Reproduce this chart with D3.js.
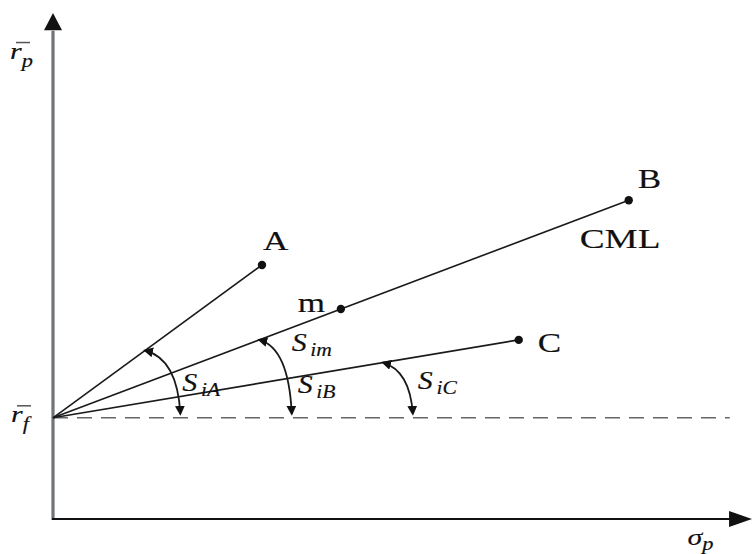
<!DOCTYPE html>
<html>
<head>
<meta charset="utf-8">
<script src="https://cdn.jsdelivr.net/npm/d3@7"></script>
<style>
  html, body { margin: 0; padding: 0; background: #fff; }
  svg { display: block; }
  .lbl { font-family: "Liberation Serif", "DejaVu Serif", serif; fill: #111; stroke: #111; stroke-width: 0.15; }
  .it { font-style: italic; }
</style>
</head>
<body>
<svg id="chart" width="752" height="554"></svg>
<script>
// Risk-free rate and portfolio positions (sigma_p, r_p)
const riskFree = 2.0;
const portfolioNames = ["A", "m", "B", "C"];
const portfolioSigma = [3.02, 4.16, 8.32, 6.73];
const portfolioReturn = [5.02, 4.15, 6.30, 3.54];
// Segments drawn from r_f (m lies on the segment to B)
const segmentEnds = ["A", "B", "C"];
// Sharpe-angle annotations: segment, sigma where arc leaves the segment, sigma where it meets r_f line
const angleLine = ["A", "m", "C"];
const angleStart = [1.33, 2.98, 4.77];
const angleEnd = [1.84, 3.45, 5.20];
const angleSub = ["iA", "im", "iC"];
const extraSub = "iB";

const svg = d3.select("#chart");
const x = d3.scaleLinear().domain([0, 10]).range([53, 745]);
const y = d3.scaleLinear().domain([0, 10]).range([519, 13]);

const pts = {};
portfolioNames.forEach((n, i) => pts[n] = { s: portfolioSigma[i], r: portfolioReturn[i] });

// Axes with arrowheads
svg.append("line").attr("x1", x(0)).attr("x2", x(0)).attr("y1", y(0) + 1).attr("y2", y(9.65))
  .attr("stroke", "#6f7479").attr("stroke-width", 3.2);
svg.append("path")
  .attr("d", `M${x(0) - 9},${y(9.7) + 2} L${x(0)},${y(10)} L${x(0) + 9},${y(9.7) + 2} Z`)
  .attr("fill", "#111");
svg.append("line").attr("x1", x(0) - 1).attr("x2", x(9.9)).attr("y1", y(0)).attr("y2", y(0))
  .attr("stroke", "#111").attr("stroke-width", 2);
svg.append("path")
  .attr("d", `M${x(9.77)},${y(0) - 8} L${x(10) + 7},${y(0)} L${x(9.77)},${y(0) + 8} Z`)
  .attr("fill", "#111");

// Risk-free horizontal dashed line
svg.append("line").attr("x1", x(0)).attr("x2", x(9.78)).attr("y1", y(riskFree)).attr("y2", y(riskFree))
  .attr("stroke", "#666").attr("stroke-width", 1.6).attr("stroke-dasharray", "15,9");

// Segments from r_f to portfolios
segmentEnds.forEach(n => {
  svg.append("line")
    .attr("x1", x(0)).attr("y1", y(riskFree))
    .attr("x2", x(pts[n].s)).attr("y2", y(pts[n].r))
    .attr("stroke", "#1a1a1a").attr("stroke-width", 1.6);
});

// Portfolio dots
portfolioNames.forEach(n => {
  svg.append("circle").attr("cx", x(pts[n].s)).attr("cy", y(pts[n].r)).attr("r", 4.2).attr("fill", "#111");
});

// Text placed with a horizontal stretch
function stretched(px, py, sx, cls) {
  return svg.append("text").attr("class", cls)
    .attr("transform", `translate(${px},${py}) scale(${sx},1)`);
}

// Point labels
const labelPos = { A: [1, -15], m: [-43, 3], B: [9, -12], C: [19, 12] };
portfolioNames.forEach(n => {
  const [dx, dy] = labelPos[n];
  stretched(x(pts[n].s) + dx, y(pts[n].r) + dy, 1.3, "lbl")
    .attr("font-size", 27).text(n);
});
stretched(x(pts.B.s) - 49, y(pts.B.r) + 48, 1.38, "lbl").attr("font-size", 27).text("CML");

// Curved double-headed arrows showing the angle between each line and the r_f line
const defs = svg.append("defs");
defs.append("marker").attr("id", "ah").attr("viewBox", "0 0 10 10")
  .attr("refX", 8).attr("refY", 5).attr("markerWidth", 5.5).attr("markerHeight", 5.5)
  .attr("orient", "auto-start-reverse")
  .append("path").attr("d", "M0,0 L10,5 L0,10 Z").attr("fill", "#111");

angleLine.forEach((n, i) => {
  const slope = (pts[n].r - riskFree) / pts[n].s;
  const sx = x(angleStart[i]), sy = y(riskFree + slope * angleStart[i]);
  const ex = x(angleEnd[i]), ey = y(riskFree) - 4;
  const p = d3.path();
  p.moveTo(sx, sy);
  p.quadraticCurveTo(ex - 3, sy + 8, ex, ey);
  svg.append("path").attr("d", p.toString()).attr("fill", "none")
    .attr("stroke", "#1a1a1a").attr("stroke-width", 1.8)
    .attr("marker-start", "url(#ah)").attr("marker-end", "url(#ah)");
});

// Sharpe ratio labels
function sLabel(px, py, sub) {
  const t = stretched(px, py, 1.2, "lbl it");
  t.append("tspan").attr("font-size", 25).text("S");
  t.append("tspan").attr("font-size", 18).attr("dy", 5).attr("dx", 3).text(sub);
}
const labelOffsets = [[2, -27], [0, -67], [5, -29]];
angleLine.forEach((n, i) => {
  sLabel(x(angleEnd[i]) + labelOffsets[i][0], y(riskFree) + labelOffsets[i][1], angleSub[i]);
});
sLabel(x(angleEnd[1]) + 6, y(riskFree) - 25, extraSub);

// Axis titles
function barLabel(px, py, base, sub) {
  const t = stretched(px, py, 1.25, "lbl it");
  t.append("tspan").attr("font-size", 24).text(base);
  t.append("tspan").attr("font-size", 18).attr("dy", 8).attr("dx", 0).text(sub);
  svg.append("line").attr("x1", px + 6).attr("x2", px + 20).attr("y1", py - 16).attr("y2", py - 16)
    .attr("stroke", "#555").attr("stroke-width", 1.5);
}
barLabel(10, y(9.1), "r", "p");
barLabel(11, y(riskFree) + 4, "r", "f");
const sig = stretched(x(9.17), 545, 1.25, "lbl it");
sig.append("tspan").attr("font-size", 24).text("σ");
sig.append("tspan").attr("font-size", 18).attr("dy", 5).text("p");
</script>
</body>
</html>
